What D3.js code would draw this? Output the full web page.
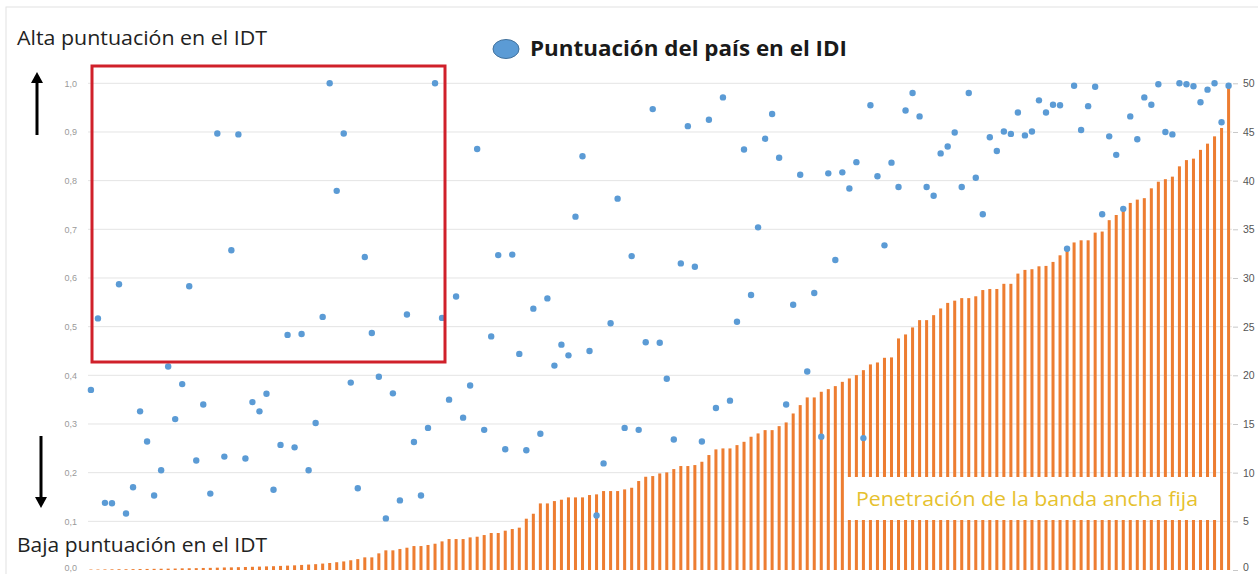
<!DOCTYPE html>
<html>
<head>
<meta charset="utf-8">
<script src="https://cdn.jsdelivr.net/npm/d3@7"></script>
<style>
  body { margin: 0; background: #fff; }
  svg { display: block; font-family: "Open Sans", Lato, sans-serif; }
</style>
</head>
<body>
<svg id="chart" width="1258" height="574"></svg>
<script>
// IDI score per country (left axis, 0-1), countries ordered by broadband penetration
const idiScore = [
  0.370, 0.517, 0.138, 0.137, 0.587, 0.116, 0.170, 0.326, 0.264, 0.153,
  0.205, 0.418, 0.310, 0.382, 0.583, 0.225, 0.340, 0.157, 0.897, 0.233,
  0.657, 0.895, 0.229, 0.345, 0.326, 0.362, 0.165, 0.257, 0.483, 0.252,
  0.485, 0.205, 0.302, 0.520, 1.000, 0.779, 0.897, 0.385, 0.168, 0.643,
  0.487, 0.397, 0.106, 0.363, 0.143, 0.525, 0.263, 0.153, 0.292, 1.000,
  0.518, 0.350, 0.562, 0.313, 0.379, 0.865, 0.288, 0.480, 0.647, 0.248,
  0.648, 0.444, 0.246, 0.537, 0.280, 0.558, 0.420, 0.463, 0.441, 0.726,
  0.850, 0.450, 0.112, 0.219, 0.507, 0.763, 0.292, 0.645, 0.288, 0.468,
  0.947, 0.467, 0.393, 0.268, 0.630, 0.912, 0.623, 0.264, 0.925, 0.333,
  0.971, 0.348, 0.510, 0.864, 0.565, 0.704, 0.886, 0.937, 0.847, 0.340,
  0.545, 0.812, 0.408, 0.569, 0.274, 0.815, 0.637, 0.817, 0.784, 0.838,
  0.271, 0.955, 0.809, 0.667, 0.837, 0.787, 0.944, 0.980, 0.932, 0.787,
  0.769, 0.856, 0.870, 0.899, 0.787, 0.980, 0.806, 0.731, 0.889, 0.861,
  0.901, 0.896, 0.940, 0.893, 0.901, 0.965, 0.940, 0.956, 0.955, 0.660,
  0.995, 0.904, 0.953, 0.993, 0.731, 0.891, 0.853, 0.742, 0.932, 0.885,
  0.971, 0.956, 0.998, 0.900, 0.895, 1.000, 0.998, 0.994, 0.961, 0.987,
  1.000, 0.920, 0.995
];

// fixed broadband penetration (right axis, 0-50)
const broadband = [
  0.05, 0.05, 0.06, 0.07, 0.08, 0.08, 0.09, 0.10, 0.11, 0.12,
  0.13, 0.14, 0.15, 0.17, 0.18, 0.19, 0.21, 0.22, 0.24, 0.26,
  0.27, 0.29, 0.31, 0.33, 0.35, 0.37, 0.39, 0.42, 0.45, 0.48,
  0.52, 0.56, 0.60, 0.66, 0.72, 0.80, 0.88, 1.00, 1.12, 1.30,
  1.30, 1.71, 2.02, 2.02, 2.16, 2.29, 2.46, 2.46, 2.57, 2.70,
  2.94, 3.18, 3.18, 3.18, 3.35, 3.42, 3.59, 3.80, 3.80, 4.04,
  4.21, 4.35, 5.27, 5.78, 6.84, 6.84, 7.08, 7.22, 7.46, 7.46,
  7.46, 7.70, 7.77, 8.11, 8.11, 8.11, 8.28, 8.45, 9.14, 9.58,
  9.65, 9.92, 10.03, 10.37, 10.68, 10.68, 10.78, 11.12, 11.81, 12.39,
  12.49, 12.49, 12.83, 13.17, 13.69, 14.03, 14.37, 14.37, 14.78, 15.16,
  16.08, 16.94, 17.73, 17.73, 18.31, 18.58, 18.89, 19.33, 19.68, 20.02,
  20.53, 21.12, 21.32, 21.80, 21.84, 23.79, 24.20, 24.92, 25.67, 25.67,
  26.18, 26.87, 27.44, 27.67, 27.93, 27.93, 28.12, 28.76, 28.87, 28.87,
  29.40, 29.40, 30.45, 30.83, 30.90, 31.20, 31.24, 31.65, 32.33, 33.00,
  33.65, 33.87, 33.87, 34.66, 34.77, 35.94, 36.47, 36.95, 37.71, 38.05,
  38.20, 39.21, 39.89, 40.15, 40.41, 41.47, 42.11, 42.26, 43.16, 43.80,
  44.55, 45.41, 49.85
];

const countries = idiScore.map((d, i) => i);
const leftTicks = [0, 0.1, 0.2, 0.3, 0.4, 0.5, 0.6, 0.7, 0.8, 0.9, 1.0];
const rightTicks = [0, 5, 10, 15, 20, 25, 30, 35, 40, 45, 50];

const svg = d3.select("#chart");

// outer frame of the figure
svg.append("rect")
    .attr("x", 6).attr("y", 7)
    .attr("width", 1300).attr("height", 600)
    .attr("fill", "none")
    .attr("stroke", "#e2e2e2");

const x = d3.scaleBand()
    .domain(countries)
    .range([88, 1231.5])
    .paddingInner(0.57)
    .paddingOuter(0.2);

const yLeft = d3.scaleLinear().domain([0, 1]).range([570, 83.3]);
const yRight = d3.scaleLinear().domain([0, 50]).range([570, 83.3]);

// gridlines
svg.append("g")
    .selectAll("line")
    .data(leftTicks.slice(1))
    .join("line")
    .attr("x1", 88).attr("x2", 1232)
    .attr("y1", d => yLeft(d)).attr("y2", d => yLeft(d))
    .attr("stroke", "#e4e4e4");

// left axis
const leftAxis = svg.append("g")
    .attr("transform", "translate(84,0)")
    .call(d3.axisLeft(yLeft).tickValues(leftTicks)
        .tickFormat(d => d3.format(".1f")(d).replace(".", ",")).tickSize(0).tickPadding(7));
leftAxis.select(".domain").remove();
leftAxis.selectAll("text")
    .attr("fill", "#9a9a9a")
    .attr("font-size", 9)
    .attr("dy", d => d === 0 ? "0" : "0.32em");

// right axis
const rightAxis = svg.append("g")
    .attr("transform", "translate(1233,0)")
    .call(d3.axisRight(yRight).tickValues(rightTicks).tickSize(5).tickPadding(5));
rightAxis.select(".domain").remove();
rightAxis.selectAll("line").attr("stroke", "#c8c8c8");
rightAxis.selectAll("text")
    .attr("fill", "#555")
    .attr("font-size", 10.5)
    .attr("dy", d => d === 0 ? "0" : "0.32em");

// broadband bars
svg.append("g")
    .selectAll("rect")
    .data(broadband)
    .join("rect")
    .attr("x", (d, i) => x(countries[i]))
    .attr("width", x.bandwidth())
    .attr("y", d => yRight(d))
    .attr("height", d => yRight(0) - yRight(d))
    .attr("fill", "#ed7d31");

// label box over the bars
svg.append("rect")
    .attr("x", 845).attr("y", 477)
    .attr("width", 373).attr("height", 43)
    .attr("fill", "#fff");
svg.append("text")
    .attr("x", 856).attr("y", 506)
    .attr("font-size", 20)
    .attr("textLength", 342)
    .attr("lengthAdjust", "spacingAndGlyphs")
    .attr("fill", "#e6c12e")
    .text("Penetración de la banda ancha fija");

// IDI dots
svg.append("g")
    .selectAll("circle")
    .data(idiScore)
    .join("circle")
    .attr("cx", (d, i) => x(countries[i]) + x.bandwidth() / 2)
    .attr("cy", d => yLeft(d))
    .attr("r", 3.2)
    .attr("fill", "#5b9bd5");

// highlighted region
svg.append("rect")
    .attr("x", 92).attr("y", 66)
    .attr("width", 353).attr("height", 296)
    .attr("fill", "none")
    .attr("stroke", "#d0202a")
    .attr("stroke-width", 3);

// legend
svg.append("ellipse")
    .attr("cx", 506).attr("cy", 49)
    .attr("rx", 13).attr("ry", 9.5)
    .attr("fill", "#5b9bd5")
    .attr("stroke", "#41719c")
    .attr("stroke-width", 1);
svg.append("text")
    .attr("x", 530).attr("y", 56)
    .attr("font-size", 20.5)
    .attr("font-weight", "bold")
    .attr("textLength", 317)
    .attr("lengthAdjust", "spacingAndGlyphs")
    .attr("fill", "#1a1a1a")
    .text("Puntuación del país en el IDI");

// side captions
svg.append("text")
    .attr("x", 17).attr("y", 45)
    .attr("font-size", 19.5)
    .attr("textLength", 250)
    .attr("lengthAdjust", "spacingAndGlyphs")
    .attr("fill", "#222")
    .text("Alta puntuación en el IDT");
svg.append("text")
    .attr("x", 17).attr("y", 552)
    .attr("font-size", 19.5)
    .attr("textLength", 250)
    .attr("lengthAdjust", "spacingAndGlyphs")
    .attr("fill", "#222")
    .text("Baja puntuación en el IDT");

// arrows
const arrow = (x0, yFrom, yTip) => {
    const dir = yTip < yFrom ? -1 : 1;
    svg.append("line")
        .attr("x1", x0).attr("x2", x0)
        .attr("y1", yFrom).attr("y2", yTip - dir * 8)
        .attr("stroke", "#000").attr("stroke-width", 3);
    svg.append("path")
        .attr("d", `M${x0},${yTip} L${x0 - 6},${yTip - dir * 11} L${x0 + 6},${yTip - dir * 11} Z`)
        .attr("fill", "#000");
};
arrow(37, 135, 72);
arrow(41, 436, 508);
</script>
</body>
</html>
